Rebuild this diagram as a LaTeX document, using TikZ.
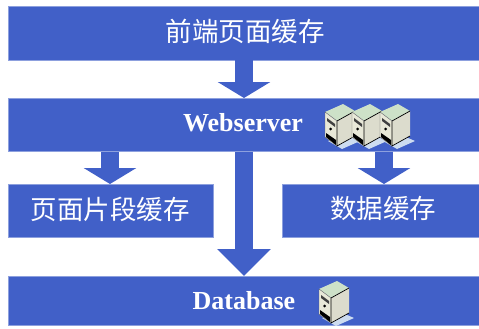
\documentclass[tikz,border=0pt]{standalone}
\usepackage{fontspec}
\usetikzlibrary{arrows.meta}
\setmainfont{Liberation Serif}
\newfontfamily\cjk{Noto Sans CJK SC}

\definecolor{barblue}{RGB}{65,96,200}
\definecolor{casebeige}{RGB}{232,232,216}
\definecolor{casetop}{RGB}{205,225,200}
\definecolor{padblue}{RGB}{205,220,240}

\tikzset{
    layerbar/.style={fill=barblue, draw=barblue!60!white, line width=0.5pt, minimum height=53pt, inner sep=0pt, anchor=north west},
    cachetext/.style={text=white, font=\cjk\fontsize{26.5}{28}\selectfont},
    servertext/.style={text=white, font=\bfseries\fontsize{26}{28}\selectfont},
    bigarrow/.style={draw=barblue, line width=18.5pt, -{Triangle[width=52pt,length=16pt]}},
    longarrow/.style={draw=barblue, line width=18.5pt, -{Triangle[width=52pt,length=27pt]}},
    pics/serverpic/.style={code={
        % shadow pad
        \fill[padblue] (-12,17) -- (4,10) -- (20,17) -- (2,25) -- cycle;
        % case
        \fill[casetop] (-15,-12) -- (3,-20) -- (15,-13) -- (-3,-3) -- cycle;
        \fill[casebeige] (-15,-12) -- (-3,-3) -- (-3,22) -- (-15,13) -- cycle;
        \fill[casebeige!95!black] (-3,-3) -- (15,-13) -- (15,12) -- (-3,22) -- cycle;
        \draw[black, line width=0.7pt] (-3,-3) -- (15,-13) (-3,-3) -- (-3,22) -- (15,12);
        \draw[black!60, line width=0.4pt] (-15,-12) -- (-3,-3) (-15,-12) -- (-15,13) -- (-3,22);
        % front panel
        \fill[black!75] (-13,-6) -- (-5,0) -- (-5,3) -- (-13,-3) -- cycle;
        \fill[black] (-9.5,5) circle (1.5);
        \fill[black] (-14,9) -- (-4,16) -- (-4,21) -- (-14,13) -- cycle;
    }}
}

\begin{document}
\begin{tikzpicture}[x=1pt, y=-1pt]

    \useasboundingbox (0,0) rectangle (479,329);

    % Layer bars
    \node[layerbar, minimum width=471pt, minimum height=54pt] (front) at (8,6) {};
    \node[layerbar, minimum width=471pt] (web) at (8,98) {};
    \node[layerbar, minimum width=205pt] (frag) at (8,184) {};
    \node[layerbar, minimum width=197pt] (data) at (282,184) {};
    \node[layerbar, minimum width=471pt, minimum height=49pt] (db) at (8,276) {};

    % Labels
    \node[cachetext] (fronttext) at (245,31) {前端页面缓存};
    \node[servertext] (webtext) at (243,123) {Webserver};
    \node[cachetext] (fragtext) at (110,209) {页面片段缓存};
    \node[cachetext] (datatext) at (383,208) {数据缓存};
    \node[servertext] (dbtext) at (244,301) {Database};

    % Arrows between layers
    \coordinate (a1) at (244,0);
    \coordinate (a2) at (110,0);
    \coordinate (a3) at (384,0);
    \draw[bigarrow] (front.south -| a1) -- (web.north -| a1);
    \draw[longarrow] (web.south -| a1) -- (db.north -| a1);
    \draw[bigarrow] (web.south -| a2) -- (frag.north -| a2);
    \draw[bigarrow] (web.south -| a3) -- (data.north -| a3);

    % Servers
    \pic at (340,124) {serverpic};
    \pic at (367,124) {serverpic};
    \pic at (395,124) {serverpic};
    \pic at (334,301) {serverpic};

\end{tikzpicture}
\end{document}
